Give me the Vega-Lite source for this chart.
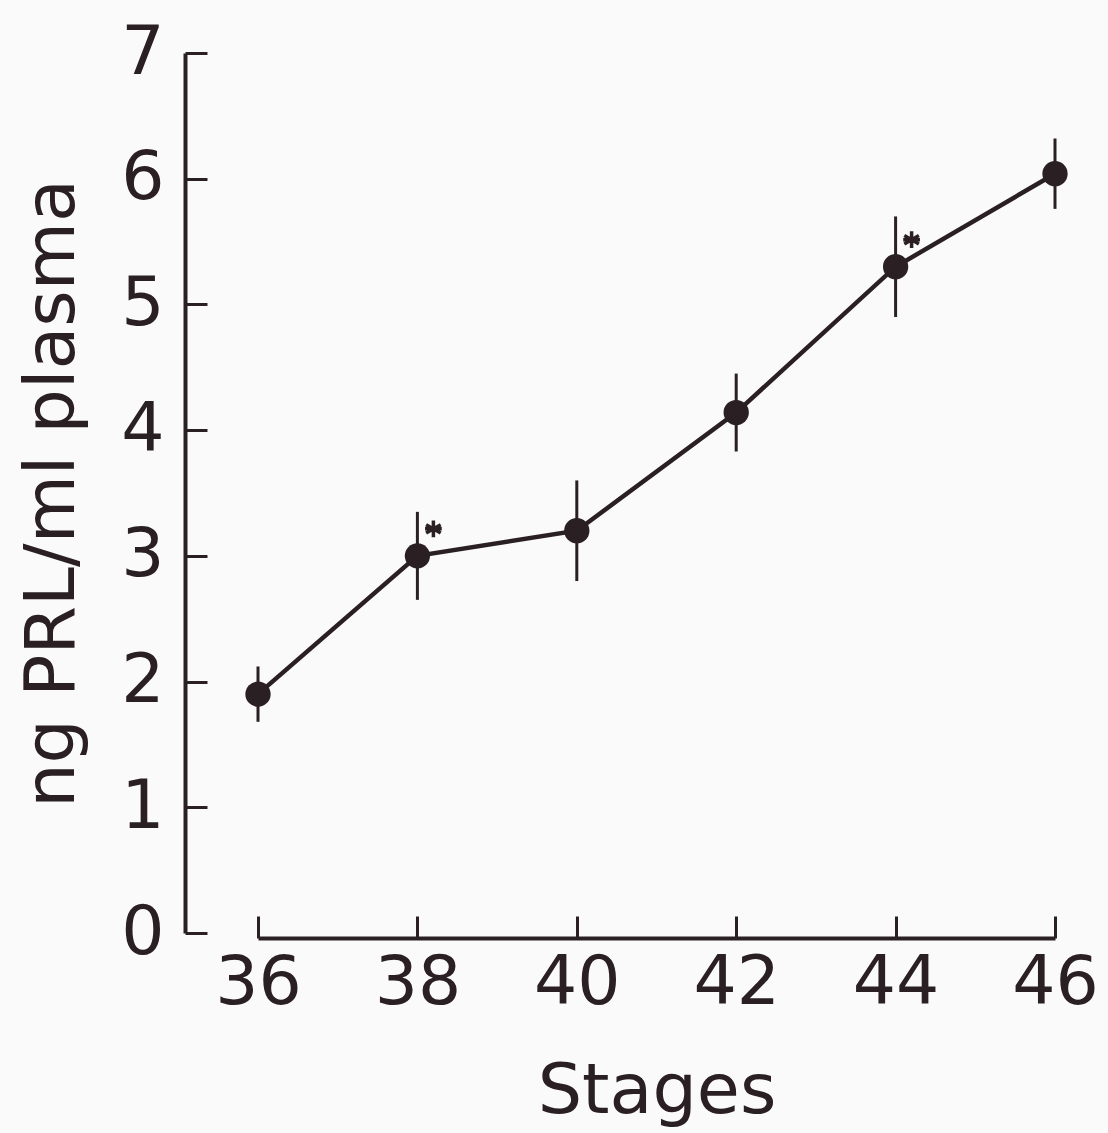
{
  "$schema": "https://vega.github.io/schema/vega-lite/v6.json",
  "width": 797,
  "height": 880,
  "autosize": {"type": "none"},
  "padding": {"left": 258, "top": 53, "right": 53, "bottom": 200},
  "background": "#fbfafa",
  "config": {
    "view": {"stroke": null},
    "font": "DejaVu Sans",
    "axis": {
      "domainColor": "#2a2024",
      "tickColor": "#2a2024",
      "labelColor": "#2a2024",
      "titleColor": "#2a2024",
      "labelFont": "DejaVu Sans",
      "titleFont": "DejaVu Sans",
      "labelFontSize": 68,
      "titleFontSize": 70,
      "labelFontWeight": "normal",
      "titleFontWeight": "normal",
      "grid": false
    }
  },
  "data": {
    "values": [
      {"stage": 36, "prl": 1.9, "low": 1.68, "high": 2.12, "sig": false},
      {"stage": 38, "prl": 3.0, "low": 2.65, "high": 3.35, "sig": true},
      {"stage": 40, "prl": 3.2, "low": 2.8, "high": 3.6, "sig": false},
      {"stage": 42, "prl": 4.14, "low": 3.83, "high": 4.45, "sig": false},
      {"stage": 44, "prl": 5.3, "low": 4.9, "high": 5.7, "sig": true},
      {"stage": 46, "prl": 6.04, "low": 5.76, "high": 6.32, "sig": false}
    ]
  },
  "encoding": {
    "x": {
      "field": "stage",
      "type": "quantitative",
      "scale": {"domain": [36, 46], "nice": false, "zero": false},
      "axis": {
        "title": "Stages",
        "values": [36, 38, 40, 42, 44, 46],
        "format": "d",
        "offset": 5,
        "domainWidth": 4,
        "tickWidth": 3,
        "tickSize": -22,
        "labelPadding": 33,
        "labelFlush": false,
        "labelOverlap": false,
        "titlePadding": 40
      }
    },
    "y": {
      "field": "prl",
      "type": "quantitative",
      "scale": {"domain": [0, 7], "nice": false},
      "axis": {
        "title": "ng PRL/ml plasma",
        "values": [0, 1, 2, 3, 4, 5, 6, 7],
        "format": "d",
        "offset": 73,
        "domainWidth": 4,
        "tickWidth": 3,
        "tickSize": -22,
        "labelPadding": 43,
        "labelFlush": false,
        "labelOverlap": false,
        "titlePadding": 32
      }
    }
  },
  "layer": [
    {
      "mark": {"type": "rule", "color": "#2a2024", "strokeWidth": 3},
      "encoding": {"y": {"field": "low", "type": "quantitative"}, "y2": {"field": "high"}}
    },
    {
      "mark": {"type": "line", "color": "#2a2024", "strokeWidth": 4.5}
    },
    {
      "mark": {"type": "point", "filled": true, "color": "#2a2024", "size": 640, "opacity": 1}
    },
    {
      "transform": [{"filter": "datum.sig"}],
      "mark": {
        "type": "point",
        "shape": "M0,-1L0,1M-0.87,-0.5L0.87,0.5M-0.87,0.5L0.87,-0.5M-1,0L1,0",
        "filled": false,
        "color": "#2a2024",
        "strokeWidth": 3.5,
        "size": 280,
        "opacity": 1,
        "xOffset": 16,
        "yOffset": -27
      }
    }
  ]
}
